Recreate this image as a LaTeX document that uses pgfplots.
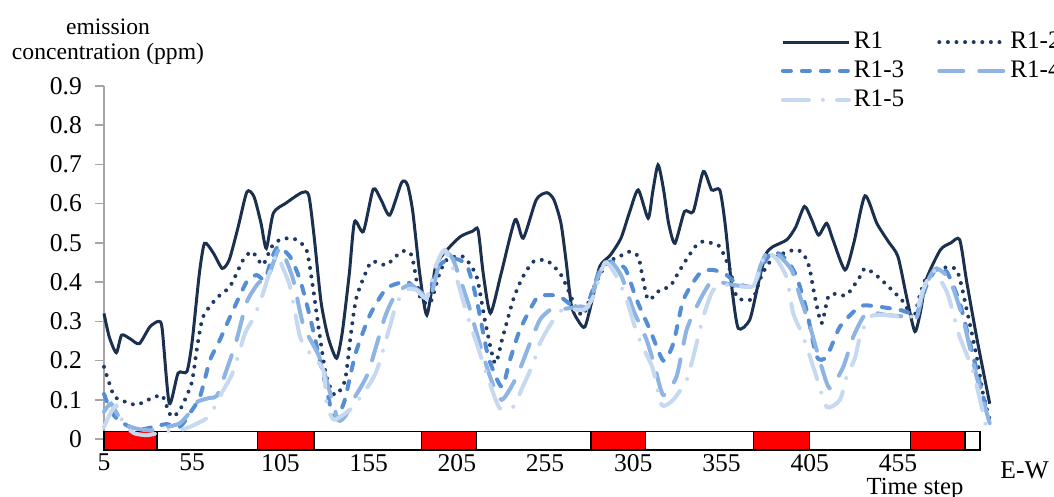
\documentclass[border=0pt]{standalone}
\usepackage{fontspec}
\setmainfont{Liberation Serif}
\usepackage{pgfplots}
\pgfplotsset{compat=1.18}
\definecolor{cA}{HTML}{1B2F4E}
\definecolor{cB}{HTML}{1F3864}
\definecolor{cC}{HTML}{558ED5}
\definecolor{cD}{HTML}{8DB4E2}
\definecolor{cE}{HTML}{C6D9F1}
\definecolor{axgray}{HTML}{A6A6A6}
\begin{document}
\begin{tikzpicture}
\begin{axis}[
  scale only axis, width=442.85pt, height=182pt,
  xmin=5, xmax=507, ymin=-0.028, ymax=0.9,
  axis lines*=left,
  x axis line style={draw=none},
  y axis line style={draw=axgray, line width=0.8pt},
  xtick={5,55,105,155,205,255,305,355,405,455},
  ytick={0,0.1,0.2,0.3,0.4,0.5,0.6,0.7,0.8,0.9},
  xtick style={draw=none},
  ytick style={draw=axgray, line width=0.8pt},
  tick align=outside, major tick length=4.5pt,
  /pgf/number format/assume math mode=true,
  ticklabel style={font=\fontsize{12.8}{14}\selectfont},
  yticklabel style={/pgf/number format/fixed, /pgf/number format/precision=1, xshift=-3pt},
  xticklabel style={inner sep=0pt, yshift=2.6pt},
  legend style={draw=none, fill=none, at={(0.757,1.168)}, anchor=north west,
    font=\fontsize{12.6}{14}\selectfont, nodes={inner sep=1.5pt}, row sep=1.6pt,
    /tikz/every even column/.append style={column sep=15pt}},
  legend columns=2, legend cell align=left,
  legend image code/.code={\draw[#1] (0pt,0pt) -- (33pt,0pt);},
  clip=false,
]
% time-step strip
\addplot[forget plot, fill=white, draw=black, line width=0.6pt] coordinates {(5,-0.028) (5,0.019) (501.5,0.019) (501.5,-0.028)} -- cycle;
\addplot[forget plot, fill=red, draw=black, line width=0.6pt] coordinates {(5,-0.028) (5,0.019) (35,0.019) (35,-0.028)} -- cycle;
\addplot[forget plot, fill=red, draw=black, line width=0.6pt] coordinates {(92,-0.028) (92,0.019) (124,0.019) (124,-0.028)} -- cycle;
\addplot[forget plot, fill=red, draw=black, line width=0.6pt] coordinates {(185,-0.028) (185,0.019) (216,0.019) (216,-0.028)} -- cycle;
\addplot[forget plot, fill=red, draw=black, line width=0.6pt] coordinates {(281,-0.028) (281,0.019) (312,0.019) (312,-0.028)} -- cycle;
\addplot[forget plot, fill=red, draw=black, line width=0.6pt] coordinates {(373,-0.028) (373,0.019) (405,0.019) (405,-0.028)} -- cycle;
\addplot[forget plot, fill=red, draw=black, line width=0.6pt] coordinates {(462,-0.028) (462,0.019) (493,0.019) (493,-0.028)} -- cycle;
% R1
\addplot[cA, line width=1.5pt, smooth, tension=0.4, no markers] coordinates {
(5,0.32) (8,0.26) (12,0.22) (15,0.265) (20,0.255) (25,0.243) (31,0.286) (36,0.30) (38,0.28) (42,0.091) (47,0.168) (52,0.172) (55,0.25) (59,0.42) (62,0.499) (67,0.474) (72,0.435) (76,0.457) (81,0.54) (86,0.63) (90,0.618) (94,0.55) (97,0.486) (101,0.576) (108,0.601) (117,0.628) (121,0.622) (124,0.52) (128,0.35) (132,0.26) (136.8,0.206) (140,0.27) (144,0.42) (147,0.554) (152,0.529) (157.6,0.637) (162,0.61) (167,0.571) (173.7,0.654) (177,0.648) (180,0.58) (184,0.42) (188,0.316) (193,0.44) (199,0.48) (207,0.516) (214,0.53) (217,0.533) (220,0.42) (224,0.321) (230,0.42) (238,0.559) (242.6,0.512) (250,0.61) (256,0.628) (260,0.61) (264,0.55) (267,0.45) (270,0.338) (274,0.30) (277.6,0.286) (282,0.36) (286,0.44) (292,0.469) (298,0.512) (303,0.58) (307.8,0.635) (313.4,0.563) (316,0.63) (319,0.699) (322,0.64) (325,0.55) (328.6,0.499) (334,0.58) (339,0.58) (344.7,0.682) (349.4,0.635) (354,0.635) (357,0.55) (361,0.38) (364.5,0.282) (371,0.304) (376,0.40) (380,0.47) (384,0.49) (392,0.508) (397,0.54) (402,0.593) (406,0.56) (410,0.52) (414.6,0.55) (418,0.51) (425,0.431) (430,0.50) (436.3,0.62) (443,0.55) (449.6,0.503) (455,0.465) (460,0.36) (464.6,0.274) (468,0.33) (471,0.406) (479,0.482) (485,0.50) (490,0.508) (494,0.40) (500,0.25) (507,0.09)
};
\addlegendentry{R1}
% R1-2
\addplot[cB, line width=2pt, line cap=round, dash pattern=on 0pt off 4.3pt, smooth, tension=0.4, no markers] coordinates {
(5,0.184) (8,0.142) (11,0.108) (17,0.095) (23.5,0.087) (30,0.10) (37.6,0.112) (40,0.09) (43.3,0.057) (48,0.074) (54.6,0.142) (58,0.24) (61.2,0.312) (68.8,0.359) (76.4,0.389) (83.9,0.457) (88.7,0.478) (92,0.46) (95.2,0.444) (100,0.49) (104.7,0.508) (110,0.512) (114.2,0.508) (119.8,0.482) (123,0.40) (127.4,0.26) (131,0.16) (135.9,0.112) (141.6,0.15) (145,0.27) (148.2,0.363) (155.8,0.448) (160,0.45) (165.2,0.444) (173.7,0.478) (179.3,0.469) (184.1,0.363) (189.8,0.346) (195,0.42) (199.2,0.457) (208.6,0.465) (216.2,0.414) (221,0.30) (226.6,0.193) (231,0.26) (236.9,0.355) (242,0.41) (248.3,0.452) (256,0.455) (263.4,0.423) (267.2,0.389) (272,0.34) (276.6,0.316) (283,0.39) (289.9,0.448) (297,0.465) (303.1,0.478) (307.8,0.465) (310,0.42) (313.4,0.355) (320.1,0.38) (325.8,0.389) (330,0.42) (334.3,0.452) (340,0.49) (343.7,0.503) (349,0.50) (354.1,0.49) (359.8,0.431) (363.5,0.363) (368,0.355) (373,0.359) (378,0.42) (384,0.46) (392.8,0.478) (398.5,0.482) (403,0.46) (405.1,0.431) (407.9,0.363) (411.7,0.295) (415.5,0.363) (420,0.37) (425.9,0.367) (433.5,0.414) (436.3,0.435) (442,0.42) (448.6,0.393) (458,0.35) (463.7,0.308) (467,0.36) (471.3,0.414) (478.8,0.435) (488.3,0.431) (494,0.329) (499.6,0.21) (503,0.12) (507,0.048)
};
\addlegendentry{R1-2}
% R1-3
\addplot[cC, line width=2pt, line cap=round, dash pattern=on 4pt off 5.5pt, smooth, tension=0.4, no markers] coordinates {
(5,0.115) (8,0.08) (11.2,0.057) (16,0.04) (21.6,0.027) (27,0.025) (32.9,0.031) (40.5,0.038) (48,0.031) (53.7,0.066) (59.4,0.108) (65,0.2) (70.7,0.253) (78.2,0.329) (85.9,0.401) (91.5,0.418) (96.2,0.406) (100,0.46) (103.7,0.49) (110.4,0.465) (116.1,0.406) (121.7,0.312) (127.4,0.2) (132,0.11) (134.9,0.053) (138,0.06) (141.5,0.1) (145,0.17) (148.2,0.227) (155.7,0.316) (165.2,0.384) (176.5,0.401) (182.2,0.38) (187.8,0.359) (192,0.41) (195.4,0.444) (202,0.461) (210.5,0.444) (216.2,0.355) (222.8,0.21) (230.4,0.133) (235,0.20) (240.7,0.278) (250.2,0.359) (256.8,0.367) (263.4,0.363) (271,0.338) (277.6,0.33) (282,0.38) (286.1,0.431) (291.8,0.452) (300.3,0.435) (306.9,0.355) (314.5,0.278) (322,0.2) (327.7,0.244) (333.4,0.355) (342.8,0.423) (350.3,0.431) (357.9,0.418) (363.5,0.397) (373,0.389) (378,0.44) (384.3,0.478) (391.9,0.457) (397.5,0.414) (403.2,0.329) (408.9,0.21) (414.6,0.21) (422.1,0.286) (433.5,0.338) (442.9,0.338) (456.1,0.329) (465.6,0.321) (471,0.39) (476.9,0.435) (482.6,0.427) (490.1,0.346) (497.7,0.21) (505.2,0.074)
};
\addlegendentry{R1-3}
% R1-4
\addplot[cD, line width=2pt, line cap=round, dash pattern=on 12pt off 8pt, smooth, tension=0.4, no markers] coordinates {
(5,0.07) (9,0.09) (13,0.06) (18,0.035) (25,0.025) (32,0.022) (40,0.03) (48,0.04) (54,0.07) (58,0.095) (65,0.105) (69,0.11) (74,0.17) (80,0.25) (86,0.35) (93,0.40) (97,0.40) (101,0.45) (105,0.485) (112,0.41) (118,0.29) (127,0.21) (133,0.12) (137.8,0.048) (142,0.06) (146.3,0.10) (154.6,0.168) (164.3,0.312) (170.8,0.372) (178.4,0.393) (184,0.376) (189.8,0.36) (194,0.43) (197.3,0.474) (202.6,0.46) (211.4,0.346) (216.2,0.27) (223.8,0.159) (230.4,0.10) (238.9,0.159) (246.4,0.244) (252.1,0.304) (257.8,0.329) (263.4,0.33) (274.8,0.338) (280,0.338) (284,0.40) (288.9,0.452) (293,0.45) (298.4,0.414) (305,0.329) (312.5,0.253) (317.2,0.184) (322,0.112) (329.5,0.159) (335.2,0.278) (341.8,0.346) (348.4,0.397) (354,0.40) (361.6,0.393) (373,0.39) (377,0.44) (380.5,0.474) (386,0.474) (394.7,0.431) (399.5,0.363) (405.2,0.286) (411.7,0.184) (416.5,0.129) (424,0.184) (429.7,0.261) (437.2,0.321) (448.6,0.316) (459.9,0.312) (465.6,0.31) (469,0.37) (473.1,0.414) (476.9,0.435) (484.4,0.406) (492,0.304) (499.6,0.159) (507,0.04)
};
\addlegendentry{R1-4}
% R1-5
\addplot[cE, line width=2pt, line cap=round, dash pattern=on 13pt off 7pt on 0pt off 7pt, smooth, tension=0.4, no markers] coordinates {
(5,0.03) (8,0.06) (12,0.085) (16,0.04) (22,0.015) (30,0.01) (40,0.02) (50,0.025) (58,0.04) (65,0.06) (72,0.12) (78,0.17) (85,0.27) (90,0.31) (95,0.37) (100,0.44) (103,0.47) (106,0.44) (110.4,0.389) (116.1,0.261) (121.7,0.219) (129.3,0.176) (131.2,0.09) (134.9,0.05) (140,0.06) (146.2,0.082) (155.8,0.142) (160,0.18) (167,0.286) (170.8,0.346) (176.5,0.38) (182,0.38) (188,0.36) (193,0.44) (198.3,0.482) (204.8,0.41) (210.5,0.321) (216.2,0.244) (223.8,0.14) (229.4,0.078) (236.9,0.082) (242,0.13) (248.3,0.193) (252.1,0.244) (257.8,0.29) (265,0.33) (277,0.33) (282.3,0.363) (289,0.45) (295.5,0.414) (301.2,0.355) (305.9,0.286) (309.8,0.24) (316,0.18) (321,0.087) (327.6,0.10) (335.2,0.15) (339,0.21) (344.7,0.312) (350.3,0.38) (357.9,0.393) (365,0.39) (373,0.39) (377,0.44) (380.5,0.474) (386,0.46) (392,0.41) (395.6,0.321) (401.3,0.261) (408,0.17) (414.6,0.082) (422.1,0.10) (426,0.16) (430.6,0.206) (433.5,0.261) (439.1,0.312) (448.6,0.316) (460,0.31) (465,0.32) (469.3,0.38) (475,0.43) (482.6,0.376) (486.3,0.321) (490,0.26) (497.7,0.17) (505,0.03)
};
\addlegendentry{R1-5}
\end{axis}
\node[align=center, font=\fontsize{11.8}{12.7}\selectfont] at (2pt,204pt) {emission\\concentration (ppm)};
\node[anchor=west, font=\fontsize{12.8}{14}\selectfont, inner sep=0pt] at (448pt,-10pt) {E-W};
\node[font=\fontsize{12.3}{14}\selectfont, inner sep=0pt] at (405.5pt,-19.3pt) {Time step};
\pgfresetboundingbox
\path[use as bounding box] (-52pt,-23.5pt) rectangle (475pt,225pt);
\end{tikzpicture}
\end{document}
